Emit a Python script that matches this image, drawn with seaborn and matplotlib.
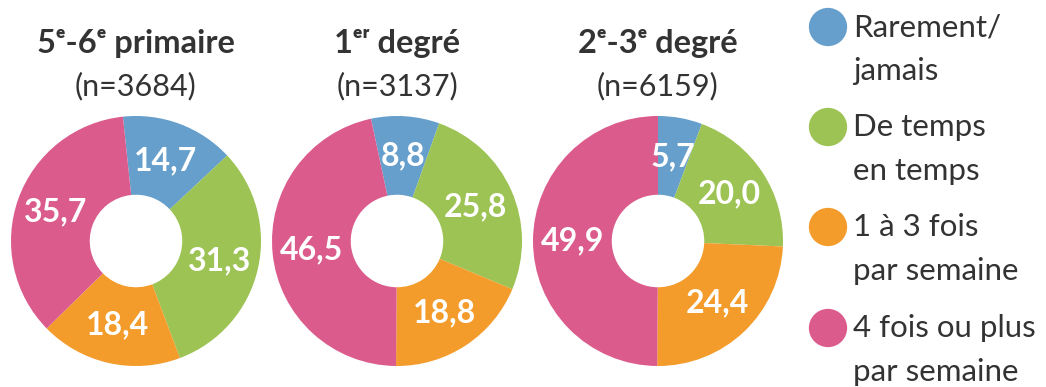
import numpy as np
import matplotlib
matplotlib.use("Agg")
import matplotlib.pyplot as plt
import seaborn as sns

# data
groups = ["5ᵉ-6ᵉ primaire", "1ᵉʳ degré", "2ᵉ-3ᵉ degré"]
group_n = ["(n=3684)", "(n=3137)", "(n=6159)"]
categories = ["Rarement/\njamais", "De temps\nen temps",
              "1 à 3 fois\npar semaine", "4 fois ou plus\npar semaine"]
primaire = [14.7, 31.3, 18.4, 35.7]
degre_1 = [8.8, 25.8, 18.8, 46.5]
degre_23 = [5.7, 20.0, 24.4, 49.9]
start_angles = [96, 102, 90]

colors = ["#669fcb", "#9cc353", "#f39c2b", "#db5c8c"]
text_col = "#333333"

sns.set_theme(style="white")
plt.rcParams['font.family'] = ['Lato', 'Noto Sans', 'DejaVu Sans']

W, H = 1046, 387
fig = plt.figure(figsize=(W / 100, H / 100), dpi=100)

centers_x = [136, 397, 658]
cy, rad = 241, 125

for values, cx, title, n_txt, start in zip([primaire, degre_1, degre_23],
                                           centers_x, groups, group_n, start_angles):
    ax = fig.add_axes([(cx - rad) / W, (H - cy - rad) / H, 2 * rad / W, 2 * rad / H])
    wedges, _ = ax.pie(values, colors=colors, startangle=start, counterclock=False,
                       radius=1, wedgeprops=dict(width=0.63, edgecolor='none'))
    for w, v in zip(wedges, values):
        mid = np.deg2rad((w.theta1 + w.theta2) / 2)
        r = 0.685
        ax.text(r * np.cos(mid), r * np.sin(mid), f"{v:.1f}".replace('.', ','),
                ha='center', va='center', color='white', fontsize=23, fontweight='bold')
    ax.set_xlim(-1, 1)
    ax.set_ylim(-1, 1)
    ax.set_aspect('equal')
    ax.axis('off')

    fig.text(cx / W, 1 - 44 / H, title, ha='center', va='center',
             fontsize=23.5, fontweight='bold', color=text_col)
    fig.text(cx / W, 1 - 86 / H, n_txt, ha='center', va='center',
             fontsize=22, color=text_col)

# legend drawn by hand
lax = fig.add_axes([0, 0, 1, 1])
lax.set_xlim(0, W)
lax.set_ylim(H, 0)
lax.axis('off')
leg_y = [27, 127, 227, 328]
lax.scatter([828] * 4, leg_y, s=760, c=colors, linewidths=0)
for y, lab in zip(leg_y, categories):
    for i, line in enumerate(lab.split("\n")):
        lax.text(853, y + i * 44, line, ha='left', va='center',
                 fontsize=22.5, color=text_col)

fig.savefig("out.png", dpi=100)
